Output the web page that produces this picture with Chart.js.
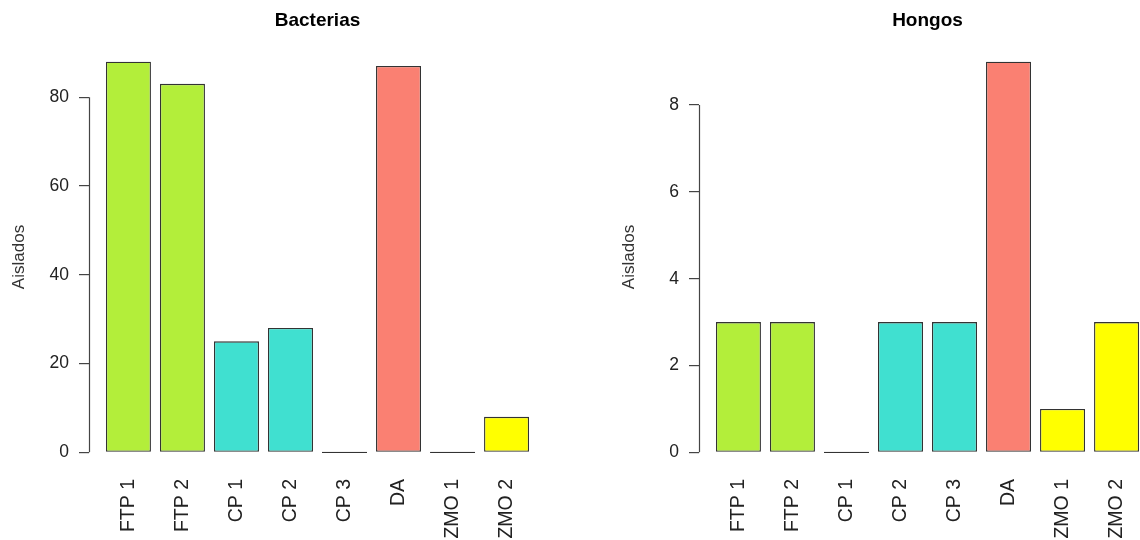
<!DOCTYPE html>
<html lang="es">
<head>
  <meta charset="UTF-8">
  <title>Aislados: Bacterias y Hongos</title>
  <style>
    html, body {
      margin: 0;
      padding: 0;
      background: #fff;
      width: 1140px;
      height: 540px;
      overflow: hidden;
    }
    .panel {
      position: absolute;
      top: 0;
      width: 570px;
      height: 540px;
    }
    #left { left: 0; }
    #right { left: 610px; }
  </style>
  <script src="https://cdn.jsdelivr.net/npm/chart.js"></script>
</head>
<body>

<div class="panel" id="left"><canvas id="bact" width="570" height="540"></canvas></div>
<div class="panel" id="right"><canvas id="hong" width="570" height="540"></canvas></div>

<script>
// categories and values
const categories = ["FTP 1", "FTP 2", "CP 1", "CP 2", "CP 3", "DA", "ZMO 1", "ZMO 2"];
const bacterias = [88, 83, 25, 28, 0, 87, 0, 8];
const hongos = [3, 3, 0, 3, 3, 9, 1, 3];
const bactTicks = [0, 20, 40, 60, 80];
const hongTicks = [0, 2, 4, 6, 8];

const GREEN = "#B3EE3A", TURQ = "#40E0D0", SALMON = "#FA8072", YELLOW = "#FFFF00";
const barColors = [GREEN, GREEN, TURQ, TURQ, TURQ, SALMON, YELLOW, YELLOW];

const FONT = "'Liberation Sans', Arial, sans-serif";

// R-style axis line (from first to last tick only) and main title
const rAxis = {
  id: "rAxis",
  afterDraw(chart, args, opts) {
    const { ctx, chartArea, scales } = chart;
    const y = scales.y;
    const t = y.ticks;
    ctx.save();
    ctx.strokeStyle = "#444";
    ctx.lineWidth = 1.2;
    ctx.beginPath();
    const x = Math.round(chartArea.left) + 0.5;
    ctx.moveTo(x, y.getPixelForValue(t[0].value));
    ctx.lineTo(x, y.getPixelForValue(t[t.length - 1].value));
    ctx.stroke();

    ctx.fillStyle = "#000";
    ctx.font = "bold 19px " + FONT;
    ctx.textAlign = "center";
    ctx.textBaseline = "middle";
    ctx.fillText(opts.title, (chartArea.left + chartArea.right) / 2, 21);
    ctx.restore();
  }
};

function makeChart(id, title, values, yTicks) {
  const top = Math.max(...values);
  // x positions follow R barplot: width 1, space 0.2, 4% extension
  const pts = values.map((v, i) => ({ x: i, y: v }));
  return new Chart(document.getElementById(id), {
    type: "bar",
    data: {
      datasets: [{
        data: pts,
        backgroundColor: barColors,
        borderColor: "#333",
        borderWidth: 1.3,
        borderSkipped: false,
        minBarLength: 1.3,
        categoryPercentage: 1,
        barPercentage: 1 / 1.2
      }]
    },
    options: {
      responsive: false,
      animation: false,
      layout: { padding: { top: 46, right: 24, left: 0, bottom: 0 } },
      plugins: {
        legend: { display: false },
        tooltip: { enabled: false },
        rAxis: { title: title }
      },
      scales: {
        x: {
          type: "linear",
          offset: false,
          min: -0.73,
          max: 7.73,
          grid: { display: false, drawTicks: false, offset: false },
          border: { display: false },
          afterBuildTicks: s => { s.ticks = categories.map((c, i) => ({ value: i })); },
          afterFit: s => { s.height = 72; },
          ticks: {
            autoSkip: false,
            minRotation: 90,
            maxRotation: 90,
            padding: 11,
            color: "#222",
            font: { family: FONT, size: 19.5 },
            callback: v => categories[v]
          }
        },
        y: {
          min: -0.04 * top,
          max: 1.04 * top,
          grid: { display: true, drawOnChartArea: false, drawTicks: true, tickLength: 10, color: "#444", lineWidth: 1.2 },
          border: { display: false },
          afterBuildTicks: s => { s.ticks = yTicks.map(v => ({ value: v })); },
          afterFit: s => { s.width = 89; },
          title: {
            display: true,
            text: "Aislados",
            color: "#333",
            font: { family: FONT, size: 17 },
            padding: { top: 9, bottom: 0 }
          },
          ticks: {
            padding: 10,
            color: "#222",
            font: { family: FONT, size: 17.5 }
          }
        }
      }
    },
    plugins: [rAxis]
  });
}

makeChart("bact", "Bacterias", bacterias, bactTicks);
makeChart("hong", "Hongos", hongos, hongTicks);
</script>
</body>
</html>
